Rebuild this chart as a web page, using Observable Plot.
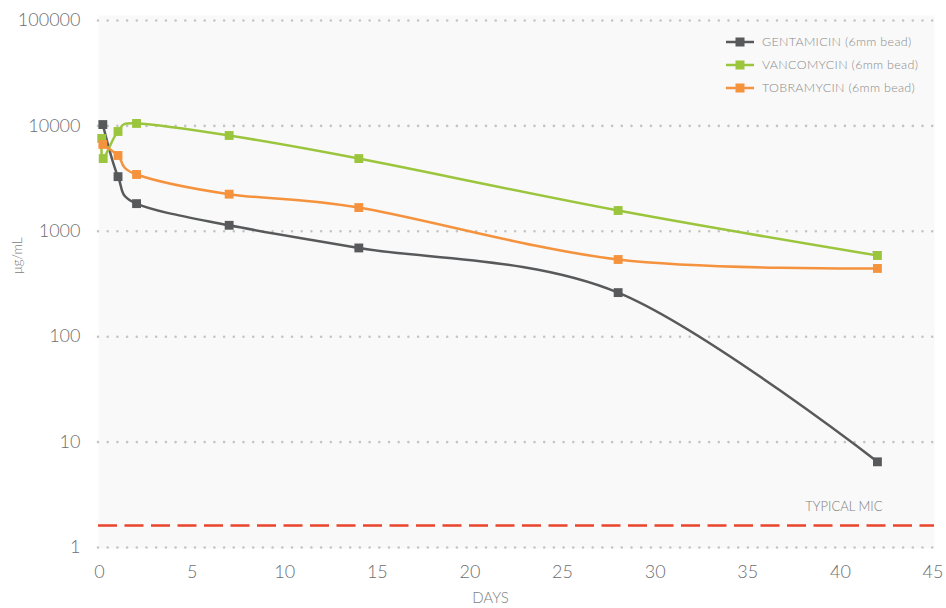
<!DOCTYPE html>
<html>
<head>
<meta charset="utf-8">
<script src="https://cdn.jsdelivr.net/npm/d3@7"></script>
<script src="https://cdn.jsdelivr.net/npm/@observablehq/plot@0.6"></script>
<style>
  body { margin: 0; background: #fff; font-family: Lato, "Open Sans", sans-serif; }
  #wrap { position: relative; width: 946px; height: 608px; }
  #legend { position: absolute; left: 726px; top: 30px; font-family: Lato, sans-serif; font-weight: 300; font-size: 12.5px; color: #8a8a8a; letter-spacing: 0.3px; }
  #legend .row { display: flex; align-items: center; height: 23px; }
  #legend svg { margin-right: 8px; }
</style>
</head>
<body>
<div id="wrap">
  <div id="chart"></div>
  <div id="legend"></div>
</div>
<script>
// ---- data ----
const seriesNames = ["GENTAMICIN (6mm bead)", "VANCOMYCIN (6mm bead)", "TOBRAMYCIN (6mm bead)"];
const seriesColors = ["#58595b", "#9bc53d", "#f5923e"];

const gentDays = [0.18, 1, 2, 7, 14, 28, 42];
const gentVals = [10300, 3300, 1830, 1140, 695, 262, 6.5];

const vancDays = [0.12, 0.2, 1, 2, 7, 14, 28, 42];
const vancVals = [7600, 4900, 8850, 10550, 8110, 4900, 1575, 589];

const tobrDays = [0.18, 1, 2, 7, 14, 28, 42];
const tobrVals = [6670, 5240, 3460, 2250, 1680, 540, 444];

const errDays = [42];
const errHigh = [640];

const micValue = [1.62];
const micLabel = "TYPICAL MIC";

const xTicks = [0, 5, 10, 15, 20, 25, 30, 35, 40, 45];
const yTicks = [1, 10, 100, 1000, 10000, 100000];
const xLabel = "DAYS";
const yLabel = "μg/mL";

// ---- build table ----
const rows = [];
[[gentDays, gentVals], [vancDays, vancVals], [tobrDays, tobrVals]].forEach(([ds, vs], i) => {
  ds.forEach((d, j) => rows.push({series: seriesNames[i], day: d, value: vs[j]}));
});
const errs = errDays.map((d, i) => ({day: d, hi: errHigh[i]}));

const chart = Plot.plot({
  width: 946,
  height: 608,
  marginLeft: 98,
  marginRight: 12,
  marginTop: 15,
  marginBottom: 60,
  insetTop: 5,
  insetBottom: 1,
  insetLeft: 1,
  insetRight: 1.5,
  style: {background: "transparent", fontFamily: "Lato, sans-serif", fontWeight: 300, color: "#6d6e71", fontSize: "18px"},
  x: {domain: [0, 45], ticks: xTicks, label: null},
  y: {type: "log", domain: [1, 100000], ticks: yTicks, tickFormat: d3.format("d"), label: null},
  color: {domain: seriesNames, range: seriesColors},
  marks: [
    Plot.frame({fill: "#f9f9f9", stroke: null}),
    Plot.ruleY(yTicks, {stroke: "#c4c4c4", strokeWidth: 2.6, strokeLinecap: "round", strokeDasharray: "0,9.7"}),
    Plot.ruleY(micValue, {stroke: "#e8452c", strokeWidth: 2.5, strokeDasharray: "19,7.5"}),
    Plot.text(micValue, {y: d => d, text: () => micLabel, frameAnchor: "right", textAnchor: "end", dx: -52, dy: -19, fill: "#808080", fontSize: 13, fontWeight: 300}),
    Plot.ruleX(errs, {x: "day", y1: d => vancVals[vancDays.indexOf(d.day)], y2: "hi", stroke: "#aaaaaa", strokeWidth: 1}),
    Plot.ruleY(errs, {y: "hi", x1: d => d.day - 0.25, x2: d => d.day + 0.25, stroke: "#aaaaaa", strokeWidth: 1.5}),
    Plot.line(rows, {x: "day", y: "value", z: "series", stroke: "series", strokeWidth: 2.5, curve: d3.curveCatmullRom.alpha(0)}),
    Plot.dot(rows, {x: "day", y: "value", fill: "series", symbol: "square", r: 5}),
    Plot.axisX({ticks: xTicks, tickSize: 0, tickPadding: 17, fontSize: 18, label: null}),
    Plot.axisY({ticks: yTicks, tickSize: 0, tickPadding: 18, fontSize: 18, tickFormat: d3.format("d"), label: null}),
    Plot.text([xLabel], {frameAnchor: "bottom", dy: 54, dx: -26, fontSize: 15, fill: "#808080", fontWeight: 300}),
    Plot.text([yLabel], {frameAnchor: "left", dx: -81, dy: -8, rotate: -90, fontSize: 13, fill: "#808080", fontWeight: 300})
  ]
});
document.getElementById("chart").appendChild(chart);

// ---- legend ----
const legend = document.getElementById("legend");
seriesNames.forEach((name, i) => {
  const row = document.createElement("div");
  row.className = "row";
  row.innerHTML = `<svg width="28" height="10"><line x1="0" x2="28" y1="5" y2="5" stroke="${seriesColors[i]}" stroke-width="2.5"/><rect x="9.5" y="0.5" width="9" height="9" fill="${seriesColors[i]}"/></svg><span>${name}</span>`;
  legend.appendChild(row);
});
</script>
</body>
</html>
